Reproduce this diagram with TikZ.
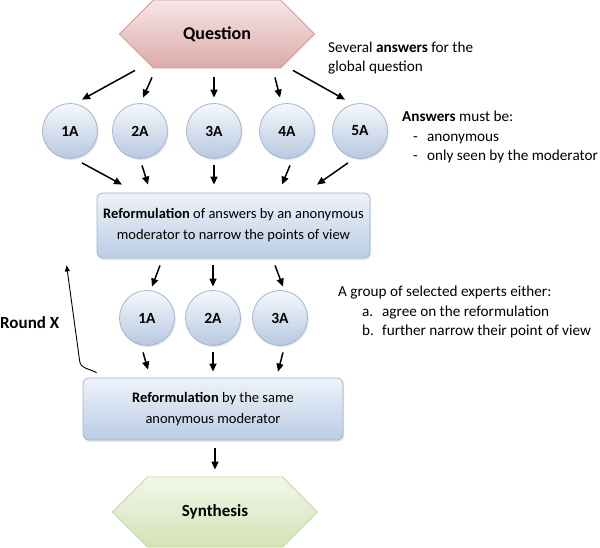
\documentclass[tikz,border=0pt]{standalone}
\usepackage{fontspec}
\setmainfont{Carlito}
\usetikzlibrary{shapes.symbols,shadows,arrows.meta}

\definecolor{qtop}{HTML}{F7E7E7}
\definecolor{qbot}{HTML}{DBAAA8}
\definecolor{qline}{HTML}{D49C9A}
\definecolor{syntop}{HTML}{F2F7E8}
\definecolor{synbot}{HTML}{D3E2B6}
\definecolor{synline}{HTML}{C5D8A0}
\definecolor{anstop}{HTML}{F5F8FC}
\definecolor{ansbot}{HTML}{B7C8E0}
\definecolor{ansline}{HTML}{A3B6D0}
\definecolor{boxtop}{HTML}{EEF3FA}
\definecolor{boxbot}{HTML}{BACCE4}
\definecolor{boxline}{HTML}{9EB4D2}

\tikzset{
  hexa/.style={signal, signal to=west and east, signal pointer angle=90,
    inner sep=0pt, line width=0.8pt},
  answer/.style={circle, minimum size=55pt, inner sep=0pt, draw=ansline,
    top color=anstop, bottom color=ansbot, line width=0.8pt,
    font=\fontsize{15.5}{16}\selectfont\bfseries,
    drop shadow={opacity=0.2, shadow xshift=1.2pt, shadow yshift=-1.5pt}},
  refbox/.style={rectangle, rounded corners=6pt, draw=boxline, line width=0.8pt,
    top color=boxtop, bottom color=boxbot, align=center, inner sep=0pt,
    font=\fontsize{14.5}{21}\selectfont,
    drop shadow={opacity=0.2, shadow xshift=1.2pt, shadow yshift=-2pt}},
  arr/.style={-{Triangle[length=8pt,width=7pt]}, line width=1.5pt},
  note/.style={anchor=west, align=left, inner sep=0pt,
    font=\fontsize{15.2}{19.5}\selectfont}
}

\begin{document}
\begin{tikzpicture}[x=1pt,y=-1pt]
\useasboundingbox (0,0) rectangle (600,547);
\clip (0,0) rectangle (600,547);
\path (217,34) node[hexa, minimum width=195pt, minimum height=68pt, draw=qline,
        top color=qtop, bottom color=qbot, font=\fontsize{18}{20}\selectfont\bfseries] (quest) {Question}
      (70,131) node[answer] (a1) {1A}
      (140,131) node[answer] (a2) {2A}
      (214,131) node[answer] (a3) {3A}
      (287,131) node[answer] (a4) {4A}
      (360,131) node[answer] (a5) {5A}
      (233.5,225.5) node[refbox, minimum width=273pt, minimum height=65pt] (ref1)
        {\textbf{Reformulation} of answers by an anonymous\\moderator to narrow the points of view}
      (147,318) node[answer] (b1) {1A}
      (213,318) node[answer] (b2) {2A}
      (280,318) node[answer] (b3) {3A}
      (213,409) node[refbox, minimum width=260pt, minimum height=62pt] (ref2)
        {\textbf{Reformulation} by the same\\anonymous moderator}
      (215,512) node[hexa, minimum width=205pt, minimum height=70pt, draw=synline,
        top color=syntop, bottom color=synbot, font=\fontsize{17}{20}\selectfont\bfseries] (synth) {Synthesis}
      (0,323) node[anchor=west, inner sep=0pt, font=\fontsize{17}{18}\selectfont\bfseries] (round) {Round X}
      (328,58) node[note] (severalnote) {Several \textbf{answers} for the\\global question}
      (402,137) node[note] (mustnote) {\textbf{Answers} must be:\\
        \makebox[25pt][l]{\hspace*{11pt}-}anonymous\\
        \makebox[25pt][l]{\hspace*{11pt}-}only seen by the moderator}
      (338,312) node[note] (groupnote) {A group of selected experts either:\\
        \makebox[44pt][l]{\hspace*{24pt}a.}agree on the reformulation\\
        \makebox[44pt][l]{\hspace*{24pt}b.}further narrow their point of view}
      ;

\draw[arr] ([xshift=-82pt,yshift=-2pt]quest.south) -- ([xshift=12pt,yshift=3.5pt]a1.north);
\draw[arr] ([xshift=-65pt,yshift=-9pt]quest.south) -- ([xshift=3pt,yshift=5.5pt]a2.north);
\draw[arr] ([xshift=-3pt,yshift=-9pt]quest.south) -- ([yshift=5.5pt]a3.north);
\draw[arr] ([xshift=58pt,yshift=-9pt]quest.south) -- ([xshift=-7pt,yshift=5.5pt]a4.north);
\draw[arr] ([xshift=76pt,yshift=-2pt]quest.south) -- ([xshift=-15pt,yshift=3.5pt]a5.north);

\draw[arr] ([xshift=12pt,yshift=-4pt]a1.south) -- ([xshift=-111.5pt,yshift=8pt]ref1.north);
\draw[arr] ([xshift=2pt,yshift=-6.5pt]a2.south) -- ([xshift=-85.5pt,yshift=8pt]ref1.north);
\draw[arr] ([yshift=-6.5pt]a3.south) -- ([xshift=-19.5pt,yshift=8pt]ref1.north);
\draw[arr] ([xshift=3pt,yshift=-6.5pt]a4.south) -- ([xshift=48.5pt,yshift=8pt]ref1.north);
\draw[arr] ([xshift=-12pt,yshift=-4pt]a5.south) -- ([xshift=83.5pt,yshift=8pt]ref1.north);

\draw[arr] ([xshift=-73.5pt,yshift=-7pt]ref1.south) -- ([xshift=5pt,yshift=3.5pt]b1.north);
\draw[arr] ([xshift=-20.5pt,yshift=-7pt]ref1.south) -- ([yshift=3.5pt]b2.north);
\draw[arr] ([xshift=41.5pt,yshift=-7pt]ref1.south) -- ([xshift=3pt,yshift=3.5pt]b3.north);

\draw[arr] ([xshift=-4pt,yshift=-6.5pt]b1.south) -- ([xshift=-65pt,yshift=8pt]ref2.north);
\draw[arr] ([yshift=-6.5pt]b2.south) -- ([yshift=6pt]ref2.north);
\draw[arr] ([xshift=3pt,yshift=-6.5pt]b3.south) -- ([xshift=65pt,yshift=6pt]ref2.north);

\draw[arr] ([xshift=2pt,yshift=-8pt]ref2.south) -- ([yshift=7pt]synth.north);

\draw[-{Triangle[length=6pt,width=5pt]}, line width=0.9pt]
  ([xshift=14pt,yshift=5pt]ref2.north west) .. controls +(-10,-5) and +(1,8) .. ++(-17,-12)
  -- ([xshift=-30pt,yshift=-7pt]ref1.south west);
\end{tikzpicture}
\end{document}
